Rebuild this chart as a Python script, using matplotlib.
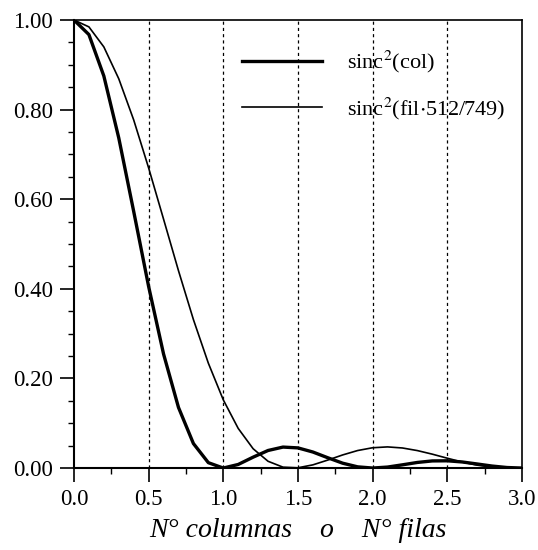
import matplotlib
matplotlib.use("Agg")
import matplotlib.pyplot as plt
from matplotlib.ticker import MultipleLocator, FormatStrFormatter

plt.rcParams['font.family'] = ['Liberation Serif', 'DejaVu Serif']
plt.rcParams['mathtext.fontset'] = 'stix'

# Sample positions (columns / rows) and response values
x_vals = [0.0, 0.1, 0.2, 0.3, 0.4, 0.5, 0.6, 0.7, 0.8, 0.9,
          1.0, 1.1, 1.2, 1.3, 1.4, 1.5, 1.6, 1.7, 1.8, 1.9,
          2.0, 2.1, 2.2, 2.3, 2.4, 2.5, 2.6, 2.7, 2.8, 2.9, 3.0]

sinc2_col = [1.0000, 0.9675, 0.8751, 0.7368, 0.5728, 0.4053, 0.2546, 0.1353, 0.0547, 0.0120,
             0.0000, 0.0080, 0.0243, 0.0392, 0.0468, 0.0450, 0.0358, 0.0230, 0.0108, 0.0027,
             0.0000, 0.0022, 0.0072, 0.0125, 0.0159, 0.0162, 0.0136, 0.0091, 0.0045, 0.0012, 0.0000]

sinc2_fil = [1.0000, 0.9847, 0.9400, 0.8689, 0.7770, 0.6699, 0.5556, 0.4405, 0.3314, 0.2341,
             0.1523, 0.0885, 0.0431, 0.0151, 0.0020, 0.0006, 0.0071, 0.0178, 0.0293, 0.0391,
             0.0453, 0.0472, 0.0448, 0.0390, 0.0310, 0.0220, 0.0134, 0.0065, 0.0020, 0.0001, 0.0006]

series_labels = [r'sinc$^2$(col)', r'sinc$^2$(fil$\cdot$512/749)']
grid_x = [0.5, 1.0, 1.5, 2.0, 2.5]
x_label = 'N° columnas    o    N° filas'

fig = plt.figure(figsize=(5.38, 5.5), dpi=100)
ax = fig.add_axes([0.1375, 0.149, 0.8325, 0.8146])

for gx in grid_x:
    ax.axvline(gx, color='black', lw=0.9, ls=(0, (2.5, 2.5)), zorder=1)

ax.plot(x_vals, sinc2_col, color='black', lw=2.4, label=series_labels[0], zorder=3)
ax.plot(x_vals, sinc2_fil, color='black', lw=1.2, label=series_labels[1], zorder=3)

ax.set_xlim(0, 3.0)
ax.set_ylim(0, 1.0)
ax.xaxis.set_major_locator(MultipleLocator(0.5))
ax.xaxis.set_minor_locator(MultipleLocator(0.25))
ax.yaxis.set_major_locator(MultipleLocator(0.2))
ax.yaxis.set_minor_locator(MultipleLocator(0.05))
ax.xaxis.set_major_formatter(FormatStrFormatter('%.1f'))
ax.yaxis.set_major_formatter(FormatStrFormatter('%.2f'))

ax.tick_params(which='major', direction='out', length=10, width=1.2,
               labelsize=16.5, pad=5)
ax.tick_params(which='minor', direction='out', length=4.5, width=1.0)
for s in ax.spines.values():
    s.set_linewidth(1.2)
ax.spines['left'].set_linewidth(1.5)
ax.spines['bottom'].set_linewidth(1.5)

ax.set_xlabel(x_label, fontsize=20, style='italic', labelpad=6)

ax.legend(loc='upper left', bbox_to_anchor=(0.375, 0.935), frameon=False,
          borderpad=0, borderaxespad=0,
          fontsize=16, handlelength=3.6, handletextpad=1.15, labelspacing=0.9)

fig.savefig('out.png', dpi=100)
